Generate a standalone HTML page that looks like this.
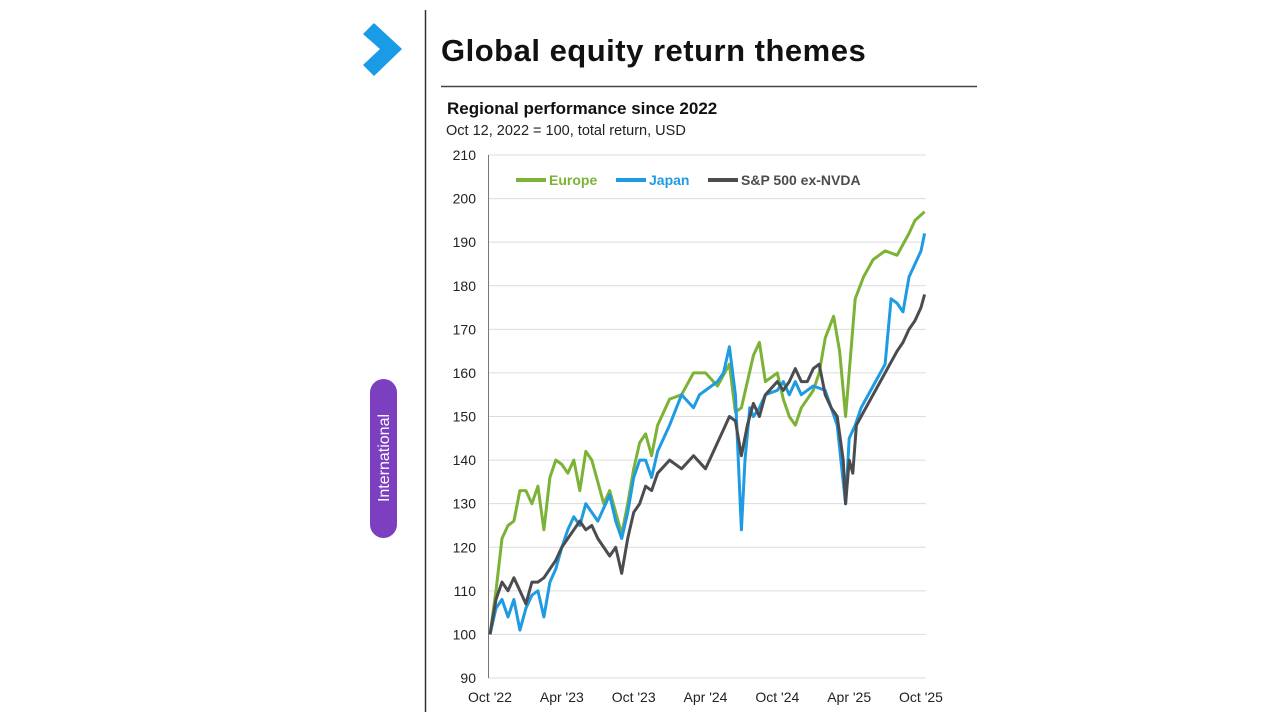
<!DOCTYPE html>
<html><head><meta charset="utf-8">
<style>
body{margin:0;background:#fff;font-family:"Liberation Sans",sans-serif;}
#wrap{position:relative;width:1280px;height:720px;overflow:hidden;background:#fff;}
</style></head>
<body>
<div id="wrap">
<svg width="1280" height="720" style="position:absolute;left:0;top:0">
  <polygon points="364,34 374,24 401,49 374,75 364,65 381,49" fill="#1a9be6" stroke="#1a9be6" stroke-width="1.5" stroke-linejoin="round"/>
  <line x1="425.5" y1="10" x2="425.5" y2="712" stroke="#333" stroke-width="1.5"/>
  <text x="441" y="61" font-size="31" font-weight="bold" letter-spacing="0.5" fill="#111">Global equity return themes</text>
  <line x1="441" y1="86.5" x2="977" y2="86.5" stroke="#444" stroke-width="1.5"/>
  <text x="447" y="114" font-size="17" font-weight="bold" fill="#111">Regional performance since 2022</text>
  <text x="446" y="135" font-size="14.5" fill="#222">Oct 12, 2022 = 100, total return, USD</text>
  <rect x="370" y="379" width="27" height="159" rx="13.5" fill="#7b3fc0"/>
  <text transform="translate(389,458) rotate(-90)" text-anchor="middle" font-size="16" fill="#fff">International</text>
  <g id="chart"></g>
</svg>
</div>
<script>
const yTicks=[90,100,110,120,130,140,150,160,170,180,190,200,210];
const xTickLabels=["Oct '22","Apr '23","Oct '23","Apr '24","Oct '24","Apr '25","Oct '25"];
const xTickMonths=[0,6,12,18,24,30,36];
const seriesNames=["Europe","Japan","S&P 500 ex-NVDA"];
const europeMonths=[0,0.5,1,1.5,2,2.5,3,3.5,4,4.5,5,5.5,6,6.5,7,7.5,8,8.5,9,9.5,10,10.5,11,11.5,12,12.5,13,13.5,14,15,16,17,18,19,20,20.5,21,22,22.5,23,24,24.5,25,25.5,26,27,27.5,28,28.7,29.2,29.7,30.5,31.2,32,33,34,35,35.5,36.3];
const europeValues=[100,110,122,125,126,133,133,130,134,124,136,140,139,137,140,133,142,140,135,130,133,128,123,130,138,144,146,141,148,154,155,160,160,157,162,151,152,164,167,158,160,154,150,148,152,156,160,168,173,165,150,177,182,186,188,187,192,195,197];
const japanMonths=[0,0.5,1,1.5,2,2.5,3,3.5,4,4.5,5,5.5,6,6.5,7,7.5,8,8.5,9,10,10.5,11,11.5,12,12.5,13,13.5,14,15,16,17,17.5,18,19,19.5,20,20.5,21,21.3,21.7,22,22.5,23,24,24.5,25,25.5,26,27,28,28.5,29,29.5,29.7,30,30.5,31,32,33,33.5,34,34.5,35,35.5,36,36.3];
const japanValues=[100,106,108,104,108,101,106,109,110,104,112,115,120,124,127,125,130,128,126,132,126,122,128,136,140,140,136,142,148,155,152,155,156,158,160,166,155,124,140,152,150,152,155,156,158,155,158,155,157,156,152,148,135,130,145,148,152,157,162,177,176,174,182,185,188,192];
const spMonths=[0,0.5,1,1.5,2,2.5,3,3.5,4,4.5,5,5.5,6,6.5,7,7.5,8,8.5,9,10,10.5,11,11.5,12,12.5,13,13.5,14,15,16,17,18,18.5,19,19.5,20,20.5,21,21.5,22,22.5,23,24,24.5,25,25.5,26,26.5,27,27.5,28,28.5,29,29.5,29.7,30,30.3,30.6,31,32,33,34,34.5,35,35.5,36,36.3];
const spValues=[100,108,112,110,113,110,107,112,112,113,115,117,120,122,124,126,124,125,122,118,120,114,122,128,130,134,133,137,140,138,141,138,141,144,147,150,149,141,148,153,150,155,158,156,158,161,158,158,161,162,155,152,150,140,130,140,137,148,150,155,160,165,167,170,172,175,178];
const colors=["#7cb236","#1e9be2","#4a4c50"];

const NS="http://www.w3.org/2000/svg";
const g=document.getElementById('chart');
const X0=490,X1=921,Y0=678,Y1=155;
const xs=m=>X0+m*(X1-X0)/36;
const ys=v=>Y0-(v-90)*(Y0-Y1)/120;
function mk(t,a){const e=document.createElementNS(NS,t);for(const k in a)e.setAttribute(k,a[k]);g.appendChild(e);return e;}
yTicks.forEach(v=>{
  const l=mk('line',{x1:488,x2:926,y1:ys(v),y2:ys(v),stroke:'#dcdcdc','stroke-width':1});
  
  
  const t=mk('text',{x:476,y:ys(v)+5,'text-anchor':'end','font-size':14,fill:'#222'});
  t.textContent=v;
  
  
});
const ax=mk('line',{x1:488.5,x2:488.5,y1:Y1,y2:Y0,stroke:'#777','stroke-width':1});


xTickLabels.forEach((s,i)=>{
  const t=mk('text',{x:xs(xTickMonths[i]),y:702,'text-anchor':'middle','font-size':14,fill:'#222'});
  t.textContent=s;
  
  
});
const data=[[europeMonths,europeValues],[japanMonths,japanValues],[spMonths,spValues]];
data.forEach((d,i)=>{
  const pts=d[0].map((m,j)=>xs(m).toFixed(1)+','+ys(d[1][j]).toFixed(1)).join(' ');
  const p=mk('polyline',{points:pts,fill:'none',stroke:colors[i],'stroke-width':3,'stroke-linejoin':'round'});
  
  
});
const legX=[516,616,708];
seriesNames.forEach((s,i)=>{
  const l=mk('line',{x1:legX[i],x2:legX[i]+30,y1:180,y2:180,stroke:colors[i],'stroke-width':4});
  
  
  const t=mk('text',{x:legX[i]+33,y:185,'font-size':14,'font-weight':'bold',fill:colors[i]});
  t.textContent=s;
  
  
});
</script>
</body></html>
